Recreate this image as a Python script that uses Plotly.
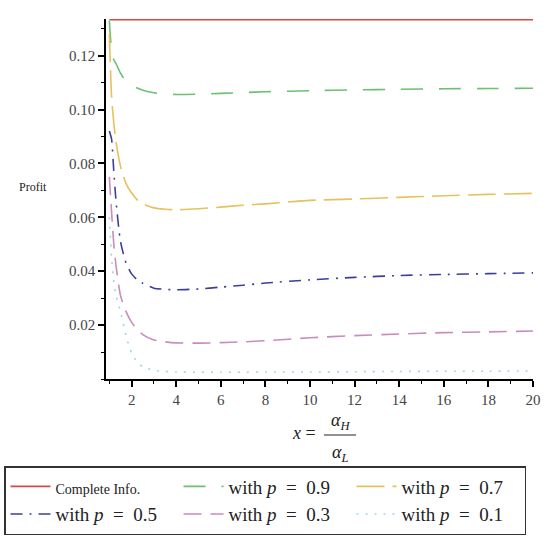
import plotly.graph_objects as go

# ---- data ----
x_vals = [1, 1.1, 1.2, 1.3, 1.5, 1.75, 2, 2.25, 2.5, 3, 3.5, 4, 5, 6, 7, 8, 10, 12, 14, 16, 18, 20]

complete_info = [0.1333] * len(x_vals)
p09 = [0.1330, 0.1220, 0.1185, 0.1170, 0.1135, 0.1105, 0.1090, 0.1080, 0.1072, 0.1062, 0.1058, 0.1056,
       0.1057, 0.1060, 0.1063, 0.1066, 0.1070, 0.1073, 0.1075, 0.1077, 0.1078, 0.1079]
p07 = [0.1280, 0.1050, 0.0950, 0.0880, 0.0790, 0.0725, 0.0690, 0.0665, 0.0650, 0.0635, 0.0630, 0.0628,
       0.0632, 0.0638, 0.0645, 0.0650, 0.0663, 0.0668, 0.0674, 0.0680, 0.0685, 0.0689]
p05 = [0.0920, 0.0890, 0.0770, 0.0660, 0.0510, 0.0430, 0.0390, 0.0368, 0.0355, 0.0337, 0.0333, 0.0331,
       0.0334, 0.0341, 0.0348, 0.0356, 0.0368, 0.0377, 0.0384, 0.0388, 0.0391, 0.0394]
p03 = [0.0750, 0.0620, 0.0500, 0.0420, 0.0310, 0.0250, 0.0210, 0.0185, 0.0165, 0.0145, 0.0138, 0.0134,
       0.0133, 0.0135, 0.0138, 0.0142, 0.0153, 0.0161, 0.0167, 0.0172, 0.0175, 0.0178]
p01 = [0.0600, 0.0450, 0.0360, 0.0310, 0.0250, 0.0160, 0.0095, 0.0063, 0.0045, 0.0032, 0.0028, 0.0026,
       0.0025, 0.0025, 0.0025, 0.0026, 0.0026, 0.0027, 0.0028, 0.0029, 0.0029, 0.0030]

series_names = ["Complete Info.", "with <i>p</i> = 0.9", "with <i>p</i> = 0.7",
                "with <i>p</i> = 0.5", "with <i>p</i> = 0.3", "with <i>p</i> = 0.1"]
series_values = [complete_info, p09, p07, p05, p03, p01]
series_colors = ["#D94848", "#6CC070", "#E6C15E", "#3B3F9A", "#C98CBE", "#9FD6E6"]
series_dash = ["solid", "22px,16px", "28px,8px", "12px,7px,2px,7px", "18px,9px", "2px,7px"]

y_ticks = [0.02, 0.04, 0.06, 0.08, 0.10, 0.12]
x_ticks = [2, 4, 6, 8, 10, 12, 14, 16, 18, 20]

SERIF = "Liberation Serif, Times New Roman, serif"

fig = go.Figure()
for name, vals, col, dash in zip(series_names, series_values, series_colors, series_dash):
    if name.startswith("Complete"):
        label = '<span style="font-size:14px">' + name + '</span>'
    else:
        label = name.replace(" = ", "  =  ")
    fig.add_trace(go.Scatter(
        x=x_vals, y=vals, mode="lines", name=label,
        line=dict(color=col, width=1.6, dash=dash, shape="spline", smoothing=0.6),
    ))

W, H = 547, 538
L, R, T, B = 106, 14, 19, 159
pw, ph = W - L - R, H - T - B

def px2x(px):
    return (px - L) / pw

def py2y(py):
    return (H - B - py) / ph

fig.update_layout(
    width=W, height=H,
    margin=dict(l=L, r=R, t=T, b=B, autoexpand=False),
    paper_bgcolor="white", plot_bgcolor="white",
    font=dict(family=SERIF, size=15, color="#444"),
    showlegend=True,
    legend=dict(
        orientation="h", x=px2x(4), xanchor="left", y=py2y(466), yanchor="top",
        entrywidth=118, entrywidthmode="pixels",
        bordercolor="#333", borderwidth=1.5, bgcolor="white",
        font=dict(family=SERIF, size=19, color="#222"),
        tracegroupgap=0, itemwidth=40,
    ),
    xaxis=dict(
        range=[0.85, 20], showline=True, linecolor="black", linewidth=1.5,
        showgrid=False, zeroline=False, ticks="outside", ticklen=6, tickwidth=1.5,
        tickcolor="black", tickvals=x_ticks, ticktext=[str(v) for v in x_ticks],
        tickfont=dict(family=SERIF, size=15, color="#444"),
        minor=dict(ticks="outside", ticklen=3, tickwidth=1, tickcolor="black", dtick=1, tick0=0),
    ),
    yaxis=dict(
        range=[0, 0.1336], showline=True, linecolor="black", linewidth=1.5,
        showgrid=False, zeroline=False, ticks="outside", ticklen=6, tickwidth=1.5,
        tickcolor="black", tickvals=y_ticks, ticktext=[f"{v:.2f}" for v in y_ticks],
        tickfont=dict(family=SERIF, size=15, color="#444"),
        minor=dict(ticks="outside", ticklen=3, tickwidth=1, tickcolor="black", dtick=0.01, tick0=0),
    ),
)

# y-axis label
fig.add_annotation(x=px2x(33), y=py2y(187), xref="paper", yref="paper", xanchor="center",
                   yanchor="middle", text="Profit",
                   showarrow=False, font=dict(family=SERIF, size=12, color="#222"))

# x-axis label: x = alpha_H / alpha_L
fig.add_annotation(x=px2x(318), y=py2y(433), xref="paper", yref="paper", xanchor="right",
                   yanchor="middle", text="<i>x</i> =", showarrow=False,
                   font=dict(family=SERIF, size=18, color="#222"))
fig.add_annotation(x=px2x(340), y=py2y(421), xref="paper", yref="paper", xanchor="center",
                   yanchor="middle", text="<i>α</i><sub><i>H</i></sub>", showarrow=False,
                   font=dict(family=SERIF, size=18, color="#222"))
fig.add_annotation(x=px2x(340), y=py2y(453), xref="paper", yref="paper", xanchor="center",
                   yanchor="middle", text="<i>α</i><sub><i>L</i></sub>", showarrow=False,
                   font=dict(family=SERIF, size=18, color="#222"))
fig.add_shape(type="line", xref="paper", yref="paper",
              x0=px2x(324), x1=px2x(356), y0=py2y(435), y1=py2y(435),
              line=dict(color="#222", width=1))

fig.write_html("out.html", config={"displayModeBar": False},
               post_script="document.body.style.margin='0px';")
